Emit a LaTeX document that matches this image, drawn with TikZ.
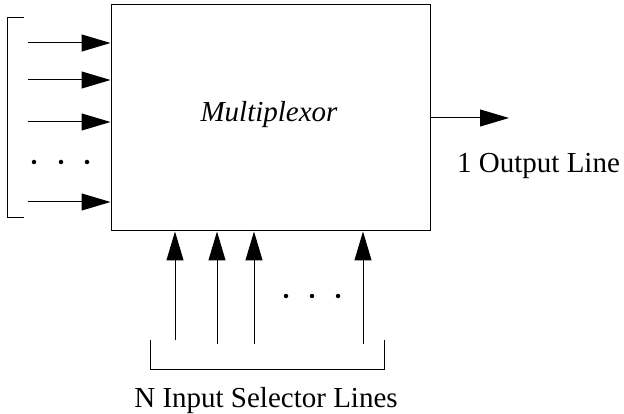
\documentclass[tikz,border=0pt]{standalone}
\usepackage{fontspec}
\setmainfont{Liberation Serif}
\usetikzlibrary{arrows.meta}
\tikzset{
        sig/.style={line width=1pt, -{Triangle[length=29pt,width=17pt]}},
        brk/.style={line width=1pt},
        dot/.style={circle, fill, inner sep=0pt, minimum size=4.5pt},
        lbl/.style={font=\fontsize{29}{34}\selectfont, inner sep=0pt},
}

\begin{document}
\begin{tikzpicture}[x=1pt, y=-1pt]
        \useasboundingbox (0,0) rectangle (624,414);
        \node (mux) [draw, line width=1pt, minimum width=319pt, minimum height=226pt, inner sep=0pt] at (270.5, 118) {};
        \node (name) [lbl, anchor=base] at (269, 122) {\itshape Multiplexor};
        \coordinate (i1) at (28, 43);
        \coordinate (i2) at (28, 80);
        \coordinate (i3) at (28, 122);
        \coordinate (i4) at (28, 202);
        \node (d1) [dot] at (34, 162) {};
        \node (d2) [dot] at (61, 162) {};
        \node (d3) [dot] at (87, 162) {};
        \coordinate (s1) at (175, 340);
        \coordinate (s2) at (217, 344);
        \coordinate (s3) at (254, 344);
        \coordinate (s4) at (363, 344);
        \node (e1) [dot] at (286, 296) {};
        \node (e2) [dot] at (312, 296) {};
        \node (e3) [dot] at (338, 296) {};
        \coordinate (o) at (509, 118);
        \node (out) [lbl, anchor=base west] at (457, 173) {1 Output Line};
        \node (sel) [lbl, anchor=base] at (266, 407) {N Input Selector Lines};
        \draw (i1) edge [sig] (i1 -| mux.west);
        \draw (i2) edge [sig] (i2 -| mux.west);
        \draw (i3) edge [sig] (i3 -| mux.west);
        \draw (i4) edge [sig] (i4 -| mux.west);
        \draw (s1) edge [sig] (s1 |- mux.south);
        \draw (s2) edge [sig] (s2 |- mux.south);
        \draw (s3) edge [sig] (s3 |- mux.south);
        \draw (s4) edge [sig] (s4 |- mux.south);
        \draw (mux.east |- o) edge [sig] (o);
        \draw [brk] (24, 18) -- (7, 18) -- (7, 218) -- (24, 218);
        \draw [brk] (150, 340) -- (150, 369) -- (384, 369) -- (384, 340);
\end{tikzpicture}
\end{document}
